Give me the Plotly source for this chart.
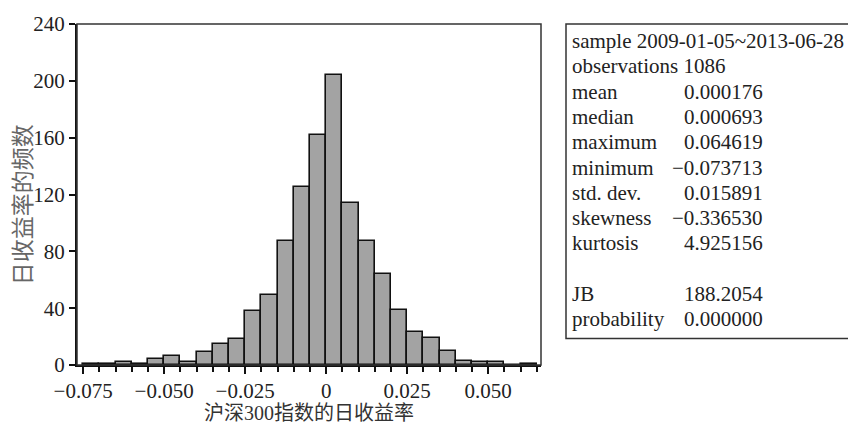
import plotly.graph_objects as go

# histogram of daily returns, bins of width 0.005
bin_centers = [-0.0725, -0.0675, -0.0625, -0.0575, -0.0525, -0.0475, -0.0425,
               -0.0375, -0.0325, -0.0275, -0.0225, -0.0175, -0.0125, -0.0075,
               -0.0025, 0.0025, 0.0075, 0.0125, 0.0175, 0.0225, 0.0275,
               0.0325, 0.0375, 0.0425, 0.0475, 0.0525, 0.0575, 0.0625]
counts = [1, 1, 2, 1, 4, 6, 2, 9, 15, 18, 38, 49, 87, 125, 162, 204, 114,
          87, 64, 39, 23, 19, 10, 3, 2, 2, 0, 1]

x_tickvals = [-0.075, -0.050, -0.025, 0, 0.025, 0.050]
x_ticktext = ["\u22120.075", "\u22120.050", "\u22120.025", "0", "0.025", "0.050"]
y_tickvals = [0, 40, 80, 120, 160, 200, 240]

stat_header = ["sample 2009-01-05~2013-06-28", "observations 1086"]
stat_names = ["mean", "median", "maximum", "minimum", "std. dev.",
              "skewness", "kurtosis", "", "JB", "probability"]
stat_values = ["0.000176", "0.000693", "0.064619", "\u22120.073713", "0.015891",
               "\u22120.336530", "4.925156", "", "188.2054", "0.000000"]

x_title = "沪深300指数的日收益率"
y_title = "日收益率的频数"

W, H = 848, 425
PL, PR, PT, PB = 77, 541, 19, 365          # plot area in pixels
pw, ph = PR - PL, PB - PT


def px(x):
    return (x - PL) / pw


def py(y):
    return (PB - y) / ph


serif = "Liberation Serif, Times New Roman, serif"
cjk = "Liberation Serif, Noto Sans CJK SC, sans-serif"

fig = go.Figure()
fig.add_trace(go.Bar(
    x=bin_centers, y=counts, width=0.005,
    marker=dict(color="#a3a3a3", line=dict(color="#111111", width=1.6)),
))

fig.update_layout(
    width=W, height=H,
    margin=dict(l=PL, r=W - PR, t=PT, b=H - PB),
    plot_bgcolor="white", paper_bgcolor="white",
    showlegend=False, bargap=0,
    font=dict(family=serif, size=21, color="#222222"),
)
fig.update_xaxes(
    range=[-0.0769, 0.0663], tickvals=x_tickvals, ticktext=x_ticktext,
    ticks="outside", ticklen=7, tickwidth=1.5, tickcolor="#111",
    ticklabelstandoff=-1,
    minor=dict(dtick=0.005, tick0=0, ticks="outside", ticklen=5,
               tickwidth=1.5, tickcolor="#111", showgrid=False),
    showline=True, linecolor="#111", linewidth=2,
    showgrid=False, zeroline=False,
)
fig.update_yaxes(
    range=[0, 240], tickvals=y_tickvals,
    ticks="outside", ticklen=6, tickwidth=1.5, tickcolor="#111",
    showline=True, linecolor="#111", linewidth=2,
    showgrid=False, zeroline=False,
)

# plot frame (top / right)
fig.add_shape(type="rect", xref="paper", yref="paper", x0=0, x1=1, y0=0, y1=1,
              line=dict(color="#333", width=1.5))
# statistics box
fig.add_shape(type="rect", xref="paper", yref="paper",
              x0=px(566), x1=px(852), y0=py(338), y1=py(19),
              line=dict(color="#333", width=1.5))

stat_font = dict(family=serif, size=21, color="#222")
row_y = [36, 62]
for i, t in enumerate(stat_header):
    fig.add_annotation(xref="paper", yref="paper", x=px(570), y=py(row_y[i]),
                       text=t, showarrow=False, xanchor="left", yanchor="middle",
                       font=stat_font)
for i, (n, v) in enumerate(zip(stat_names, stat_values)):
    y = 88 + 25.6 * i
    if n:
        fig.add_annotation(xref="paper", yref="paper", x=px(570), y=py(y),
                           text=n, showarrow=False, xanchor="left", yanchor="middle",
                           font=stat_font)
    if v:
        fig.add_annotation(xref="paper", yref="paper", x=px(765), y=py(y),
                           text=v, showarrow=False, xanchor="right", yanchor="middle",
                           font=stat_font)

fig.add_annotation(xref="paper", yref="paper", x=0.5, y=py(414), text=x_title,
                   showarrow=False, xanchor="center", yanchor="middle",
                   font=dict(family=cjk, size=20, color="#333"))
fig.add_annotation(xref="paper", yref="paper", x=px(21), y=py(203), text=y_title,
                   textangle=-90, showarrow=False, xanchor="center", yanchor="middle",
                   font=dict(family="Noto Sans CJK SC, sans-serif", size=23, color="#666"))

# drop the page's default body margin so the figure fills the window exactly
fig.write_html("out.html", config={"displayModeBar": False},
               post_script="document.body.style.margin='0';")
